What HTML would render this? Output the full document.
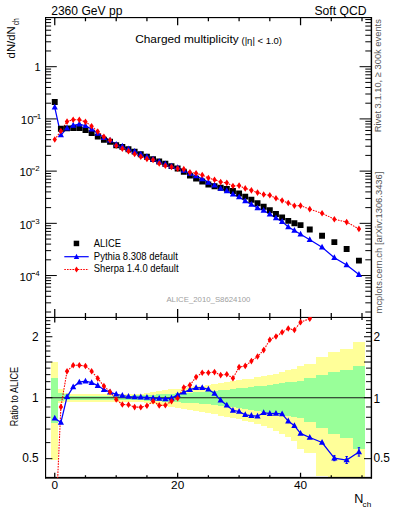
<!DOCTYPE html><html><head><meta charset="utf-8"><style>html,body{margin:0;padding:0;background:#fff;width:393px;height:512px;overflow:hidden}svg{display:block}text{font-family:"Liberation Sans",sans-serif}</style></head><body>
<svg width="393" height="512" viewBox="0 0 393 512">
<rect width="393" height="512" fill="#fff"/>
<text x="51.2" y="14.5" font-size="12.6" textLength="71.2" lengthAdjust="spacingAndGlyphs">2360 GeV pp</text>
<text x="366.5" y="14.5" font-size="12.6" text-anchor="end" textLength="52" lengthAdjust="spacingAndGlyphs">Soft QCD</text>
<text x="135.2" y="42.8" font-size="11.8" textLength="103.5" lengthAdjust="spacingAndGlyphs">Charged multiplicity</text>
<text x="241.5" y="43.6" font-size="9.6" textLength="40.5" lengthAdjust="spacingAndGlyphs">(|η| &lt; 1.0)</text>
<defs><clipPath id="cu"><rect x="45.4" y="17.25" width="325.6" height="299.85"/></clipPath><clipPath id="cl"><rect x="45.4" y="317.1" width="325.6" height="160.89999999999998"/></clipPath></defs>
<g clip-path="url(#cl)" shape-rendering="crispEdges">
<rect x="51.06" y="361.75" width="6.76" height="97.79" fill="#ffff99"/>
<rect x="57.82" y="389.32" width="6.15" height="13.82" fill="#ffff99"/>
<rect x="63.97" y="392.58" width="6.14" height="9.64" fill="#ffff99"/>
<rect x="70.11" y="393.83" width="6.14" height="7.92" fill="#ffff99"/>
<rect x="76.26" y="393.83" width="6.15" height="7.92" fill="#ffff99"/>
<rect x="82.40" y="393.83" width="6.14" height="7.92" fill="#ffff99"/>
<rect x="88.55" y="393.83" width="6.14" height="7.92" fill="#ffff99"/>
<rect x="94.69" y="393.83" width="6.15" height="7.92" fill="#ffff99"/>
<rect x="100.84" y="393.83" width="6.14" height="7.92" fill="#ffff99"/>
<rect x="106.98" y="393.83" width="6.15" height="7.92" fill="#ffff99"/>
<rect x="113.13" y="393.83" width="6.14" height="7.92" fill="#ffff99"/>
<rect x="119.27" y="393.83" width="6.14" height="7.92" fill="#ffff99"/>
<rect x="125.42" y="393.83" width="6.15" height="7.92" fill="#ffff99"/>
<rect x="131.56" y="393.70" width="6.14" height="8.18" fill="#ffff99"/>
<rect x="137.71" y="393.58" width="6.15" height="8.45" fill="#ffff99"/>
<rect x="143.85" y="392.74" width="6.15" height="10.21" fill="#ffff99"/>
<rect x="150.00" y="391.91" width="6.14" height="11.98" fill="#ffff99"/>
<rect x="156.14" y="391.09" width="6.15" height="13.75" fill="#ffff99"/>
<rect x="162.29" y="390.28" width="6.15" height="15.52" fill="#ffff99"/>
<rect x="168.43" y="389.48" width="6.14" height="17.29" fill="#ffff99"/>
<rect x="174.58" y="388.68" width="6.15" height="19.07" fill="#ffff99"/>
<rect x="180.72" y="387.89" width="6.14" height="20.85" fill="#ffff99"/>
<rect x="186.87" y="387.11" width="6.15" height="22.64" fill="#ffff99"/>
<rect x="193.01" y="386.33" width="6.15" height="24.43" fill="#ffff99"/>
<rect x="199.16" y="385.52" width="6.14" height="26.32" fill="#ffff99"/>
<rect x="205.30" y="384.63" width="6.15" height="28.43" fill="#ffff99"/>
<rect x="211.45" y="383.74" width="6.15" height="30.55" fill="#ffff99"/>
<rect x="217.59" y="382.87" width="6.14" height="32.68" fill="#ffff99"/>
<rect x="223.74" y="382.00" width="6.15" height="34.82" fill="#ffff99"/>
<rect x="229.88" y="381.14" width="6.14" height="36.97" fill="#ffff99"/>
<rect x="236.03" y="380.29" width="6.15" height="39.13" fill="#ffff99"/>
<rect x="242.17" y="379.45" width="6.15" height="41.31" fill="#ffff99"/>
<rect x="248.32" y="378.56" width="6.14" height="43.64" fill="#ffff99"/>
<rect x="254.46" y="377.46" width="6.14" height="46.57" fill="#ffff99"/>
<rect x="260.61" y="376.38" width="6.15" height="49.53" fill="#ffff99"/>
<rect x="266.75" y="375.31" width="6.14" height="52.51" fill="#ffff99"/>
<rect x="272.90" y="373.67" width="6.15" height="57.21" fill="#ffff99"/>
<rect x="279.04" y="372.06" width="6.14" height="61.98" fill="#ffff99"/>
<rect x="285.19" y="370.48" width="6.14" height="66.85" fill="#ffff99"/>
<rect x="291.33" y="368.93" width="6.14" height="71.81" fill="#ffff99"/>
<rect x="297.48" y="365.63" width="6.14" height="83.06" fill="#ffff99"/>
<rect x="303.62" y="363.94" width="12.29" height="89.26" fill="#ffff99"/>
<rect x="315.91" y="356.92" width="12.29" height="119.19" fill="#ffff99"/>
<rect x="328.20" y="352.07" width="12.29" height="145.83" fill="#ffff99"/>
<rect x="340.49" y="348.69" width="12.29" height="169.54" fill="#ffff99"/>
<rect x="352.78" y="342.28" width="12.29" height="240.44" fill="#ffff99"/>
<rect x="51.06" y="378.08" width="6.76" height="44.92" fill="#99ff99"/>
<rect x="57.82" y="392.99" width="6.15" height="8.30" fill="#99ff99"/>
<rect x="63.97" y="394.25" width="6.14" height="6.13" fill="#99ff99"/>
<rect x="70.11" y="395.53" width="6.14" height="4.40" fill="#99ff99"/>
<rect x="76.26" y="395.53" width="6.15" height="4.40" fill="#99ff99"/>
<rect x="82.40" y="395.53" width="6.14" height="4.40" fill="#99ff99"/>
<rect x="88.55" y="395.53" width="6.14" height="4.40" fill="#99ff99"/>
<rect x="94.69" y="395.53" width="6.15" height="4.40" fill="#99ff99"/>
<rect x="100.84" y="395.53" width="6.14" height="4.40" fill="#99ff99"/>
<rect x="106.98" y="395.53" width="6.15" height="4.40" fill="#99ff99"/>
<rect x="113.13" y="395.53" width="6.14" height="4.40" fill="#99ff99"/>
<rect x="119.27" y="395.53" width="6.14" height="4.40" fill="#99ff99"/>
<rect x="125.42" y="395.53" width="6.15" height="4.40" fill="#99ff99"/>
<rect x="131.56" y="395.40" width="6.14" height="4.66" fill="#99ff99"/>
<rect x="137.71" y="395.27" width="6.15" height="4.93" fill="#99ff99"/>
<rect x="143.85" y="394.95" width="6.15" height="5.58" fill="#99ff99"/>
<rect x="150.00" y="394.64" width="6.14" height="6.23" fill="#99ff99"/>
<rect x="156.14" y="394.32" width="6.15" height="6.89" fill="#99ff99"/>
<rect x="162.29" y="394.01" width="6.15" height="7.54" fill="#99ff99"/>
<rect x="168.43" y="393.70" width="6.14" height="8.19" fill="#99ff99"/>
<rect x="174.58" y="393.39" width="6.15" height="8.85" fill="#99ff99"/>
<rect x="180.72" y="393.08" width="6.14" height="9.50" fill="#99ff99"/>
<rect x="186.87" y="392.77" width="6.15" height="10.16" fill="#99ff99"/>
<rect x="193.01" y="392.46" width="6.15" height="10.81" fill="#99ff99"/>
<rect x="199.16" y="392.06" width="6.14" height="11.67" fill="#99ff99"/>
<rect x="205.30" y="391.44" width="6.15" height="13.00" fill="#99ff99"/>
<rect x="211.45" y="390.82" width="6.15" height="14.34" fill="#99ff99"/>
<rect x="217.59" y="390.21" width="6.14" height="15.67" fill="#99ff99"/>
<rect x="223.74" y="389.61" width="6.15" height="17.01" fill="#99ff99"/>
<rect x="229.88" y="389.01" width="6.14" height="18.34" fill="#99ff99"/>
<rect x="236.03" y="388.41" width="6.15" height="19.68" fill="#99ff99"/>
<rect x="242.17" y="387.81" width="6.15" height="21.03" fill="#99ff99"/>
<rect x="248.32" y="387.18" width="6.14" height="22.47" fill="#99ff99"/>
<rect x="254.46" y="386.37" width="6.14" height="24.33" fill="#99ff99"/>
<rect x="260.61" y="385.58" width="6.15" height="26.19" fill="#99ff99"/>
<rect x="266.75" y="384.79" width="6.14" height="28.06" fill="#99ff99"/>
<rect x="272.90" y="384.00" width="6.15" height="29.93" fill="#99ff99"/>
<rect x="279.04" y="383.23" width="6.14" height="31.81" fill="#99ff99"/>
<rect x="285.19" y="382.46" width="6.14" height="33.70" fill="#99ff99"/>
<rect x="291.33" y="381.69" width="6.14" height="35.59" fill="#99ff99"/>
<rect x="297.48" y="380.94" width="6.14" height="37.49" fill="#99ff99"/>
<rect x="303.62" y="378.48" width="12.29" height="43.85" fill="#99ff99"/>
<rect x="315.91" y="375.31" width="12.29" height="52.51" fill="#99ff99"/>
<rect x="328.20" y="371.96" width="12.29" height="62.28" fill="#99ff99"/>
<rect x="340.49" y="370.01" width="12.29" height="68.32" fill="#99ff99"/>
<rect x="352.78" y="365.63" width="12.29" height="83.06" fill="#99ff99"/>
</g>
<line x1="45.4" y1="397.75" x2="371.0" y2="397.75" stroke="#1a1a1a" stroke-width="1.2"/>
<g fill="#000"><rect x="45" y="17" width="1.15" height="461.4"/><rect x="370.7" y="17" width="1.4" height="461.5"/><rect x="45" y="17" width="327" height="1.15"/><rect x="45" y="316.9" width="327" height="1.1"/><rect x="45" y="476.9" width="327" height="1.75"/></g>
<path d="M45.4,312.03h5.7M371.0,312.03h-5.7M45.4,302.84h5.7M371.0,302.84h-5.7M45.4,296.32h5.7M371.0,296.32h-5.7M45.4,291.26h5.7M371.0,291.26h-5.7M45.4,287.12h5.7M371.0,287.12h-5.7M45.4,283.63h5.7M371.0,283.63h-5.7M45.4,280.60h5.7M371.0,280.60h-5.7M45.4,277.93h5.7M371.0,277.93h-5.7M45.4,275.54h11.4M371.0,275.54h-11.4M45.4,259.82h5.7M371.0,259.82h-5.7M45.4,250.63h5.7M371.0,250.63h-5.7M45.4,244.11h5.7M371.0,244.11h-5.7M45.4,239.05h5.7M371.0,239.05h-5.7M45.4,234.91h5.7M371.0,234.91h-5.7M45.4,231.42h5.7M371.0,231.42h-5.7M45.4,228.39h5.7M371.0,228.39h-5.7M45.4,225.72h5.7M371.0,225.72h-5.7M45.4,223.33h11.4M371.0,223.33h-11.4M45.4,207.61h5.7M371.0,207.61h-5.7M45.4,198.42h5.7M371.0,198.42h-5.7M45.4,191.90h5.7M371.0,191.90h-5.7M45.4,186.84h5.7M371.0,186.84h-5.7M45.4,182.70h5.7M371.0,182.70h-5.7M45.4,179.21h5.7M371.0,179.21h-5.7M45.4,176.18h5.7M371.0,176.18h-5.7M45.4,173.51h5.7M371.0,173.51h-5.7M45.4,171.12h11.4M371.0,171.12h-11.4M45.4,155.40h5.7M371.0,155.40h-5.7M45.4,146.21h5.7M371.0,146.21h-5.7M45.4,139.69h5.7M371.0,139.69h-5.7M45.4,134.63h5.7M371.0,134.63h-5.7M45.4,130.49h5.7M371.0,130.49h-5.7M45.4,127.00h5.7M371.0,127.00h-5.7M45.4,123.97h5.7M371.0,123.97h-5.7M45.4,121.30h5.7M371.0,121.30h-5.7M45.4,118.91h11.4M371.0,118.91h-11.4M45.4,103.19h5.7M371.0,103.19h-5.7M45.4,94.00h5.7M371.0,94.00h-5.7M45.4,87.48h5.7M371.0,87.48h-5.7M45.4,82.42h5.7M371.0,82.42h-5.7M45.4,78.28h5.7M371.0,78.28h-5.7M45.4,74.79h5.7M371.0,74.79h-5.7M45.4,71.76h5.7M371.0,71.76h-5.7M45.4,69.09h5.7M371.0,69.09h-5.7M45.4,66.70h11.4M371.0,66.70h-11.4M45.4,50.98h5.7M371.0,50.98h-5.7M45.4,41.79h5.7M371.0,41.79h-5.7M45.4,35.27h5.7M371.0,35.27h-5.7M45.4,30.21h5.7M371.0,30.21h-5.7M45.4,26.07h5.7M371.0,26.07h-5.7M45.4,22.58h5.7M371.0,22.58h-5.7M45.4,19.55h5.7M371.0,19.55h-5.7M45.4,458.66h7M371.0,458.66h-7M45.4,442.62h5M371.0,442.62h-5M45.4,429.07h5M371.0,429.07h-5M45.4,417.32h5M371.0,417.32h-5M45.4,406.97h5M371.0,406.97h-5M45.4,397.70h7M371.0,397.70h-7M45.4,389.32h5M371.0,389.32h-5M45.4,381.67h5M371.0,381.67h-5M45.4,374.63h5M371.0,374.63h-5M45.4,368.11h5M371.0,368.11h-5M45.4,362.04h7M371.0,362.04h-7M45.4,356.37h5M371.0,356.37h-5M45.4,351.03h5M371.0,351.03h-5M45.4,346.01h5M371.0,346.01h-5M45.4,341.25h5M371.0,341.25h-5M45.4,336.74h7M371.0,336.74h-7M45.4,332.45h5M371.0,332.45h-5M45.4,328.36h5M371.0,328.36h-5M45.4,324.45h5M371.0,324.45h-5M45.4,320.71h5M371.0,320.71h-5" stroke="#000" stroke-width="1" fill="none"/>
<path d="M54.75,17.25v8M54.75,317.1v-8M85.47,17.25v4M85.47,317.1v-4M116.20,17.25v4M116.20,317.1v-4M146.93,17.25v4M146.93,317.1v-4M177.65,17.25v8M177.65,317.1v-8M208.38,17.25v4M208.38,317.1v-4M239.10,17.25v4M239.10,317.1v-4M269.82,17.25v4M269.82,317.1v-4M300.55,17.25v8M300.55,317.1v-8M331.27,17.25v4M331.27,317.1v-4M362.00,17.25v4M362.00,317.1v-4M54.75,317.1v5.3M54.75,478.0v-5.3M85.47,317.1v2.8M85.47,478.0v-2.8M116.20,317.1v2.8M116.20,478.0v-2.8M146.93,317.1v2.8M146.93,478.0v-2.8M177.65,317.1v5.3M177.65,478.0v-5.3M208.38,317.1v2.8M208.38,478.0v-2.8M239.10,317.1v2.8M239.10,478.0v-2.8M269.82,317.1v2.8M269.82,478.0v-2.8M300.55,317.1v5.3M300.55,478.0v-5.3M331.27,317.1v2.8M331.27,478.0v-2.8M362.00,317.1v2.8M362.00,478.0v-2.8" stroke="#000" stroke-width="1.25" fill="none"/>
<text x="40.7" y="70.8" font-size="11" text-anchor="end">1</text>
<text x="33.6" y="124.41" font-size="11.5" text-anchor="end">10</text>
<rect x="33.3" y="116.31" width="4.0" height="0.9" fill="#000"/>
<text x="41.2" y="119.11" font-size="7.9" text-anchor="end">1</text>
<text x="32.2" y="176.42" font-size="11.5" text-anchor="end">10</text>
<rect x="31.5" y="168.52" width="3.5" height="0.9" fill="#000"/>
<text x="39.6" y="171.32" font-size="7.9" text-anchor="end">2</text>
<text x="32.2" y="229.23" font-size="11.5" text-anchor="end">10</text>
<rect x="31.5" y="220.73" width="3.5" height="0.9" fill="#000"/>
<text x="39.6" y="223.53" font-size="7.9" text-anchor="end">3</text>
<text x="32.2" y="281.34" font-size="11.5" text-anchor="end">10</text>
<rect x="31.5" y="272.94" width="3.5" height="0.9" fill="#000"/>
<text x="39.6" y="275.74" font-size="7.9" text-anchor="end">4</text>
<g transform="translate(14.6,58.4) rotate(-90)"><text x="0" y="0" font-size="11.6" textLength="32.2" lengthAdjust="spacingAndGlyphs">dN/dN</text><text x="33.2" y="4.5" font-size="8.6" textLength="6.9" lengthAdjust="spacingAndGlyphs">ch</text></g>
<rect x="73.7" y="240.7" width="5.5" height="5.5" fill="#000"/>
<text x="93.8" y="246.8" font-size="10.1" textLength="27.2" lengthAdjust="spacingAndGlyphs">ALICE</text>
<line x1="64.3" y1="256.7" x2="88.7" y2="256.7" stroke="#0000ff" stroke-width="1.2"/>
<path d="M76.5,253.8 L79.2,258.9 L73.8,258.9Z" fill="#0000ff"/>
<text x="93.8" y="259.6" font-size="10.1" textLength="84" lengthAdjust="spacingAndGlyphs">Pythia 8.308 default</text>
<line x1="64.3" y1="269.5" x2="88.7" y2="269.5" stroke="#ff0000" stroke-width="1" stroke-dasharray="1.6,1.1"/>
<path d="M76.5,266.4 L78.5,269.5 L76.5,272.6 L74.5,269.5Z" fill="#ff0000"/>
<text x="93.8" y="272.2" font-size="10.1" textLength="84.7" lengthAdjust="spacingAndGlyphs">Sherpa 1.4.0 default</text>
<text x="166.4" y="301.6" font-size="7.8" fill="#a0a0a0" textLength="84" lengthAdjust="spacingAndGlyphs">ALICE_2010_S8624100</text>
<g transform="translate(380.6,132.3) rotate(-90)"><text x="0" y="0" font-size="9.9" fill="#555" textLength="113.2" lengthAdjust="spacingAndGlyphs">Rivet 3.1.10, ≥ 300k events</text></g>
<g transform="translate(381.6,313.4) rotate(-90)"><text x="0" y="0" font-size="9.9" fill="#555" textLength="141.8" lengthAdjust="spacingAndGlyphs">mcplots.cern.ch [arXiv:1306.3436]</text></g>
<g clip-path="url(#cu)">
<polyline points="54.75,139.50 60.89,131.07 67.04,121.59 73.19,119.72 79.33,119.72 85.47,121.83 91.62,126.19 97.77,131.62 103.91,136.81 110.05,140.20 116.20,145.76 122.34,148.65 128.49,151.13 134.63,154.02 140.78,156.75 146.93,158.89 153.07,160.00 159.21,163.49 165.36,165.76 171.50,167.00 177.65,168.63 183.79,169.17 189.94,172.35 196.08,173.29 202.23,175.05 208.38,178.05 214.52,179.70 220.66,181.97 226.81,182.87 232.95,185.97 239.10,185.61 245.24,188.40 251.39,190.36 257.53,192.58 263.68,194.43 269.82,195.27 275.97,198.22 282.12,200.54 288.26,203.06 294.40,205.74 300.55,205.63 309.77,209.13 322.06,213.30 334.35,219.20 346.64,222.10 358.93,228.90" fill="none" stroke="#ff0000" stroke-width="1.1" stroke-dasharray="1.6,1.1"/>
<polyline points="54.75,107.31 60.89,135.07 67.04,128.17 73.19,125.34 79.33,124.10 85.47,125.75 91.62,129.13 97.77,133.48 103.91,137.74 110.05,140.28 116.20,144.42 122.34,146.33 128.49,148.99 134.63,151.39 140.78,154.15 146.93,156.72 153.07,159.20 159.21,161.71 165.36,164.11 171.50,166.20 177.65,167.78 183.79,170.41 189.94,173.51 196.08,176.05 202.23,178.92 208.38,182.33 214.52,185.22 220.66,188.47 226.81,190.83 232.95,194.27 239.10,197.06 245.24,201.01 251.39,204.42 257.53,207.97 263.68,210.57 269.82,214.30 275.97,218.07 282.12,221.60 288.26,226.93 294.40,230.42 300.55,234.31 309.77,239.76 322.06,247.25 334.35,257.70 346.64,265.06 358.93,274.58" fill="none" stroke="#0000ff" stroke-width="1.25"/>
<path d="M51.80,99.05h5.9v5.9h-5.9ZM57.94,125.75h5.9v5.9h-5.9ZM64.09,125.45h5.9v5.9h-5.9ZM70.23,125.15h5.9v5.9h-5.9ZM76.38,125.15h5.9v5.9h-5.9ZM82.52,127.05h5.9v5.9h-5.9ZM88.67,130.05h5.9v5.9h-5.9ZM94.81,133.65h5.9v5.9h-5.9ZM100.96,136.85h5.9v5.9h-5.9ZM107.10,138.75h5.9v5.9h-5.9ZM113.25,142.35h5.9v5.9h-5.9ZM119.39,143.95h5.9v5.9h-5.9ZM125.54,146.35h5.9v5.9h-5.9ZM131.69,148.65h5.9v5.9h-5.9ZM137.83,151.35h5.9v5.9h-5.9ZM143.98,153.85h5.9v5.9h-5.9ZM150.12,156.15h5.9v5.9h-5.9ZM156.26,158.55h5.9v5.9h-5.9ZM162.41,160.85h5.9v5.9h-5.9ZM168.56,163.15h5.9v5.9h-5.9ZM174.70,165.55h5.9v5.9h-5.9ZM180.84,168.85h5.9v5.9h-5.9ZM186.99,172.65h5.9v5.9h-5.9ZM193.13,175.65h5.9v5.9h-5.9ZM199.28,178.55h5.9v5.9h-5.9ZM205.43,181.55h5.9v5.9h-5.9ZM211.57,183.35h5.9v5.9h-5.9ZM217.72,184.85h5.9v5.9h-5.9ZM223.86,185.95h5.9v5.9h-5.9ZM230.00,188.05h5.9v5.9h-5.9ZM236.15,190.55h5.9v5.9h-5.9ZM242.29,193.65h5.9v5.9h-5.9ZM248.44,196.85h5.9v5.9h-5.9ZM254.58,200.25h5.9v5.9h-5.9ZM260.73,203.75h5.9v5.9h-5.9ZM266.88,207.25h5.9v5.9h-5.9ZM273.02,211.05h5.9v5.9h-5.9ZM279.17,214.45h5.9v5.9h-5.9ZM285.31,217.95h5.9v5.9h-5.9ZM291.45,220.25h5.9v5.9h-5.9ZM297.60,222.15h5.9v5.9h-5.9ZM306.82,226.55h5.9v5.9h-5.9ZM319.11,232.75h5.9v5.9h-5.9ZM331.40,239.15h5.9v5.9h-5.9ZM343.69,246.05h5.9v5.9h-5.9ZM355.98,257.65h5.9v5.9h-5.9Z" fill="#000"/>
<path d="M54.75,103.81L57.85,109.61L51.65,109.61ZM60.89,131.57L63.99,137.37L57.79,137.37ZM67.04,124.67L70.14,130.47L63.94,130.47ZM73.19,121.84L76.28,127.64L70.09,127.64ZM79.33,120.60L82.43,126.40L76.23,126.40ZM85.47,122.25L88.57,128.05L82.38,128.05ZM91.62,125.63L94.72,131.43L88.52,131.43ZM97.77,129.98L100.86,135.78L94.67,135.78ZM103.91,134.24L107.01,140.04L100.81,140.04ZM110.05,136.78L113.15,142.58L106.95,142.58ZM116.20,140.92L119.30,146.72L113.10,146.72ZM122.34,142.83L125.44,148.63L119.25,148.63ZM128.49,145.49L131.59,151.29L125.39,151.29ZM134.63,147.89L137.73,153.69L131.53,153.69ZM140.78,150.65L143.88,156.45L137.68,156.45ZM146.93,153.22L150.03,159.02L143.83,159.02ZM153.07,155.70L156.17,161.50L149.97,161.50ZM159.21,158.21L162.31,164.01L156.11,164.01ZM165.36,160.61L168.46,166.41L162.26,166.41ZM171.50,162.70L174.60,168.50L168.41,168.50ZM177.65,164.28L180.75,170.08L174.55,170.08ZM183.79,166.91L186.89,172.71L180.69,172.71ZM189.94,170.01L193.04,175.81L186.84,175.81ZM196.08,172.55L199.18,178.35L192.98,178.35ZM202.23,175.42L205.33,181.22L199.13,181.22ZM208.38,178.83L211.47,184.63L205.28,184.63ZM214.52,181.72L217.62,187.52L211.42,187.52ZM220.66,184.97L223.76,190.77L217.56,190.77ZM226.81,187.33L229.91,193.13L223.71,193.13ZM232.95,190.77L236.05,196.57L229.85,196.57ZM239.10,193.56L242.20,199.36L236.00,199.36ZM245.24,197.51L248.34,203.31L242.14,203.31ZM251.39,200.92L254.49,206.72L248.29,206.72ZM257.53,204.47L260.63,210.27L254.43,210.27ZM263.68,207.07L266.78,212.87L260.58,212.87ZM269.82,210.80L272.93,216.60L266.72,216.60ZM275.97,214.57L279.07,220.37L272.87,220.37ZM282.12,218.10L285.22,223.90L279.01,223.90ZM288.26,223.43L291.36,229.23L285.16,229.23ZM294.40,226.92L297.50,232.72L291.30,232.72ZM300.55,230.81L303.65,236.61L297.45,236.61ZM309.77,236.26L312.87,242.06L306.67,242.06ZM322.06,243.75L325.16,249.55L318.96,249.55ZM334.35,254.20L337.45,260.00L331.25,260.00ZM346.64,261.56L349.74,267.36L343.54,267.36ZM358.93,271.08L362.03,276.88L355.83,276.88Z" fill="#0000ff"/>
<path d="M54.75,136.20L56.95,139.50L54.75,142.80L52.55,139.50ZM60.89,127.77L63.09,131.07L60.89,134.37L58.69,131.07ZM67.04,118.29L69.24,121.59L67.04,124.89L64.84,121.59ZM73.19,116.42L75.39,119.72L73.19,123.02L70.98,119.72ZM79.33,116.42L81.53,119.72L79.33,123.02L77.13,119.72ZM85.47,118.53L87.67,121.83L85.47,125.13L83.27,121.83ZM91.62,122.89L93.82,126.19L91.62,129.49L89.42,126.19ZM97.77,128.32L99.97,131.62L97.77,134.92L95.56,131.62ZM103.91,133.51L106.11,136.81L103.91,140.11L101.71,136.81ZM110.05,136.90L112.25,140.20L110.05,143.50L107.85,140.20ZM116.20,142.46L118.40,145.76L116.20,149.06L114.00,145.76ZM122.34,145.35L124.55,148.65L122.34,151.95L120.14,148.65ZM128.49,147.83L130.69,151.13L128.49,154.43L126.29,151.13ZM134.63,150.72L136.83,154.02L134.63,157.32L132.44,154.02ZM140.78,153.45L142.98,156.75L140.78,160.05L138.58,156.75ZM146.93,155.59L149.12,158.89L146.93,162.19L144.73,158.89ZM153.07,156.70L155.27,160.00L153.07,163.30L150.87,160.00ZM159.21,160.19L161.41,163.49L159.21,166.79L157.01,163.49ZM165.36,162.46L167.56,165.76L165.36,169.06L163.16,165.76ZM171.50,163.70L173.70,167.00L171.50,170.30L169.31,167.00ZM177.65,165.33L179.85,168.63L177.65,171.93L175.45,168.63ZM183.79,165.87L185.99,169.17L183.79,172.47L181.59,169.17ZM189.94,169.05L192.14,172.35L189.94,175.65L187.74,172.35ZM196.08,169.99L198.28,173.29L196.08,176.59L193.88,173.29ZM202.23,171.75L204.43,175.05L202.23,178.35L200.03,175.05ZM208.38,174.75L210.57,178.05L208.38,181.35L206.18,178.05ZM214.52,176.40L216.72,179.70L214.52,183.00L212.32,179.70ZM220.66,178.67L222.86,181.97L220.66,185.27L218.47,181.97ZM226.81,179.57L229.01,182.87L226.81,186.17L224.61,182.87ZM232.95,182.67L235.15,185.97L232.95,189.27L230.75,185.97ZM239.10,182.31L241.30,185.61L239.10,188.91L236.90,185.61ZM245.24,185.10L247.44,188.40L245.24,191.70L243.04,188.40ZM251.39,187.06L253.59,190.36L251.39,193.66L249.19,190.36ZM257.53,189.28L259.73,192.58L257.53,195.88L255.33,192.58ZM263.68,191.13L265.88,194.43L263.68,197.73L261.48,194.43ZM269.82,191.97L272.02,195.27L269.82,198.57L267.62,195.27ZM275.97,194.92L278.17,198.22L275.97,201.52L273.77,198.22ZM282.12,197.24L284.31,200.54L282.12,203.84L279.92,200.54ZM288.26,199.76L290.46,203.06L288.26,206.36L286.06,203.06ZM294.40,202.44L296.60,205.74L294.40,209.04L292.20,205.74ZM300.55,202.33L302.75,205.63L300.55,208.93L298.35,205.63ZM309.77,205.83L311.97,209.13L309.77,212.43L307.57,209.13ZM322.06,210.00L324.26,213.30L322.06,216.60L319.86,213.30ZM334.35,215.90L336.55,219.20L334.35,222.50L332.15,219.20ZM346.64,218.80L348.84,222.10L346.64,225.40L344.44,222.10ZM358.93,225.60L361.13,228.90L358.93,232.20L356.73,228.90Z" fill="#ff0000"/>
</g>
<g clip-path="url(#cl)">
<polyline points="54.75,543.12 60.89,406.90 67.04,371.30 73.19,365.20 79.33,365.20 85.47,366.00 91.62,371.30 97.77,378.40 103.91,386.10 110.05,391.90 116.20,399.50 122.34,404.50 128.49,404.80 134.63,407.10 140.78,407.20 146.93,405.80 153.07,401.20 159.21,405.40 165.36,405.30 171.50,401.20 177.65,398.20 183.79,387.50 189.94,385.10 196.08,377.10 202.23,372.70 208.38,372.70 214.52,372.10 220.66,375.10 226.81,374.30 232.95,378.20 239.10,367.10 245.24,365.90 251.39,361.10 257.53,356.50 263.68,350.10 269.82,339.80 275.97,336.50 282.12,332.30 288.26,328.50 294.40,330.00 300.55,322.20 309.77,318.70 322.06,310.83 334.35,308.89 346.64,293.38 358.93,274.77" fill="none" stroke="#ff0000" stroke-width="1.1" stroke-dasharray="1.6,1.1"/>
<polyline points="54.75,418.30 60.89,422.40 67.04,396.80 73.19,387.00 79.33,382.20 85.47,381.20 91.62,382.70 97.77,385.60 103.91,389.70 110.05,392.20 116.20,394.30 122.34,395.50 128.49,396.50 134.63,396.90 140.78,397.10 146.93,397.40 153.07,398.10 159.21,398.50 165.36,398.90 171.50,398.10 177.65,394.90 183.79,392.30 189.94,389.60 196.08,387.80 202.23,387.70 208.38,389.30 214.52,393.50 220.66,400.30 226.81,405.20 232.95,410.40 239.10,411.50 245.24,414.80 251.39,415.60 257.53,416.20 263.68,412.70 269.82,413.60 275.97,413.50 282.12,414.00 288.26,421.10 294.40,425.70 300.55,433.40 309.77,437.50 322.06,442.50 334.35,458.20 346.64,460.00 358.93,451.90" fill="none" stroke="#0000ff" stroke-width="1.25"/>
<path d="M54.75,414.80L57.85,420.60L51.65,420.60ZM60.89,418.90L63.99,424.70L57.79,424.70ZM67.04,393.30L70.14,399.10L63.94,399.10ZM73.19,383.50L76.28,389.30L70.09,389.30ZM79.33,378.70L82.43,384.50L76.23,384.50ZM85.47,377.70L88.57,383.50L82.38,383.50ZM91.62,379.20L94.72,385.00L88.52,385.00ZM97.77,382.10L100.86,387.90L94.67,387.90ZM103.91,386.20L107.01,392.00L100.81,392.00ZM110.05,388.70L113.15,394.50L106.95,394.50ZM116.20,390.80L119.30,396.60L113.10,396.60ZM122.34,392.00L125.44,397.80L119.25,397.80ZM128.49,393.00L131.59,398.80L125.39,398.80ZM134.63,393.40L137.73,399.20L131.53,399.20ZM140.78,393.60L143.88,399.40L137.68,399.40ZM146.93,393.90L150.03,399.70L143.83,399.70ZM153.07,394.60L156.17,400.40L149.97,400.40ZM159.21,395.00L162.31,400.80L156.11,400.80ZM165.36,395.40L168.46,401.20L162.26,401.20ZM171.50,394.60L174.60,400.40L168.41,400.40ZM177.65,391.40L180.75,397.20L174.55,397.20ZM183.79,388.80L186.89,394.60L180.69,394.60ZM189.94,386.10L193.04,391.90L186.84,391.90ZM196.08,384.30L199.18,390.10L192.98,390.10ZM202.23,384.20L205.33,390.00L199.13,390.00ZM208.38,385.80L211.47,391.60L205.28,391.60ZM214.52,390.00L217.62,395.80L211.42,395.80ZM220.66,396.80L223.76,402.60L217.56,402.60ZM226.81,401.70L229.91,407.50L223.71,407.50ZM232.95,406.90L236.05,412.70L229.85,412.70ZM239.10,408.00L242.20,413.80L236.00,413.80ZM245.24,411.30L248.34,417.10L242.14,417.10ZM251.39,412.10L254.49,417.90L248.29,417.90ZM257.53,412.70L260.63,418.50L254.43,418.50ZM263.68,409.20L266.78,415.00L260.58,415.00ZM269.82,410.10L272.93,415.90L266.72,415.90ZM275.97,410.00L279.07,415.80L272.87,415.80ZM282.12,410.50L285.22,416.30L279.01,416.30ZM288.26,417.60L291.36,423.40L285.16,423.40ZM294.40,422.20L297.50,428.00L291.30,428.00ZM300.55,429.90L303.65,435.70L297.45,435.70ZM309.77,434.00L312.87,439.80L306.67,439.80ZM322.06,439.00L325.16,444.80L318.96,444.80ZM334.35,454.70L337.45,460.50L331.25,460.50ZM346.64,456.50L349.74,462.30L343.54,462.30ZM358.93,448.40L362.03,454.20L355.83,454.20Z" fill="#0000ff"/>
<path d="M334.35,455.70v5.00M333.15,455.70h2.4M333.15,460.70h2.4M346.64,456.50v7.00M345.44,456.50h2.4M345.44,463.50h2.4M358.93,447.70v8.40M357.73,447.70h2.4M357.73,456.10h2.4" stroke="#0000ff" stroke-width="1" fill="none"/>
<path d="M54.75,539.83L56.95,543.12L54.75,546.42L52.55,543.12ZM60.89,403.60L63.09,406.90L60.89,410.20L58.69,406.90ZM67.04,368.00L69.24,371.30L67.04,374.60L64.84,371.30ZM73.19,361.90L75.39,365.20L73.19,368.50L70.98,365.20ZM79.33,361.90L81.53,365.20L79.33,368.50L77.13,365.20ZM85.47,362.70L87.67,366.00L85.47,369.30L83.27,366.00ZM91.62,368.00L93.82,371.30L91.62,374.60L89.42,371.30ZM97.77,375.10L99.97,378.40L97.77,381.70L95.56,378.40ZM103.91,382.80L106.11,386.10L103.91,389.40L101.71,386.10ZM110.05,388.60L112.25,391.90L110.05,395.20L107.85,391.90ZM116.20,396.20L118.40,399.50L116.20,402.80L114.00,399.50ZM122.34,401.20L124.55,404.50L122.34,407.80L120.14,404.50ZM128.49,401.50L130.69,404.80L128.49,408.10L126.29,404.80ZM134.63,403.80L136.83,407.10L134.63,410.40L132.44,407.10ZM140.78,403.90L142.98,407.20L140.78,410.50L138.58,407.20ZM146.93,402.50L149.12,405.80L146.93,409.10L144.73,405.80ZM153.07,397.90L155.27,401.20L153.07,404.50L150.87,401.20ZM159.21,402.10L161.41,405.40L159.21,408.70L157.01,405.40ZM165.36,402.00L167.56,405.30L165.36,408.60L163.16,405.30ZM171.50,397.90L173.70,401.20L171.50,404.50L169.31,401.20ZM177.65,394.90L179.85,398.20L177.65,401.50L175.45,398.20ZM183.79,384.20L185.99,387.50L183.79,390.80L181.59,387.50ZM189.94,381.80L192.14,385.10L189.94,388.40L187.74,385.10ZM196.08,373.80L198.28,377.10L196.08,380.40L193.88,377.10ZM202.23,369.40L204.43,372.70L202.23,376.00L200.03,372.70ZM208.38,369.40L210.57,372.70L208.38,376.00L206.18,372.70ZM214.52,368.80L216.72,372.10L214.52,375.40L212.32,372.10ZM220.66,371.80L222.86,375.10L220.66,378.40L218.47,375.10ZM226.81,371.00L229.01,374.30L226.81,377.60L224.61,374.30ZM232.95,374.90L235.15,378.20L232.95,381.50L230.75,378.20ZM239.10,363.80L241.30,367.10L239.10,370.40L236.90,367.10ZM245.24,362.60L247.44,365.90L245.24,369.20L243.04,365.90ZM251.39,357.80L253.59,361.10L251.39,364.40L249.19,361.10ZM257.53,353.20L259.73,356.50L257.53,359.80L255.33,356.50ZM263.68,346.80L265.88,350.10L263.68,353.40L261.48,350.10ZM269.82,336.50L272.02,339.80L269.82,343.10L267.62,339.80ZM275.97,333.20L278.17,336.50L275.97,339.80L273.77,336.50ZM282.12,329.00L284.31,332.30L282.12,335.60L279.92,332.30ZM288.26,325.20L290.46,328.50L288.26,331.80L286.06,328.50ZM294.40,326.70L296.60,330.00L294.40,333.30L292.20,330.00ZM300.55,318.90L302.75,322.20L300.55,325.50L298.35,322.20ZM309.77,315.40L311.97,318.70L309.77,322.00L307.57,318.70ZM322.06,307.53L324.26,310.83L322.06,314.13L319.86,310.83ZM334.35,305.59L336.55,308.89L334.35,312.19L332.15,308.89ZM346.64,290.08L348.84,293.38L346.64,296.68L344.44,293.38ZM358.93,271.47L361.13,274.77L358.93,278.07L356.73,274.77Z" fill="#ff0000"/>
</g>
<text x="38.7" y="341" font-size="11.9" text-anchor="end">2</text>
<text x="38.7" y="401.9" font-size="11.9" text-anchor="end">1</text>
<text x="38.7" y="462" font-size="11.9" text-anchor="end">0.5</text>
<text x="373.6" y="341" font-size="11.9">2</text>
<text x="373.4" y="402.6" font-size="11.9">1</text>
<text x="373.4" y="462.2" font-size="11.9">0.5</text>
<g transform="translate(17.8,426.3) rotate(-90)"><text x="0" y="0" font-size="10.4" textLength="59.4" lengthAdjust="spacingAndGlyphs">Ratio to ALICE</text></g>
<text x="54.75" y="489.1" font-size="11.8" text-anchor="middle">0</text>
<text x="177.65" y="489.1" font-size="11.8" text-anchor="middle">20</text>
<text x="300.55" y="489.1" font-size="11.8" text-anchor="middle">40</text>
<text x="354.2" y="502.9" font-size="12.6">N</text>
<text x="362.6" y="507" font-size="8" textLength="8.6" lengthAdjust="spacingAndGlyphs">ch</text>
</svg></body></html>
